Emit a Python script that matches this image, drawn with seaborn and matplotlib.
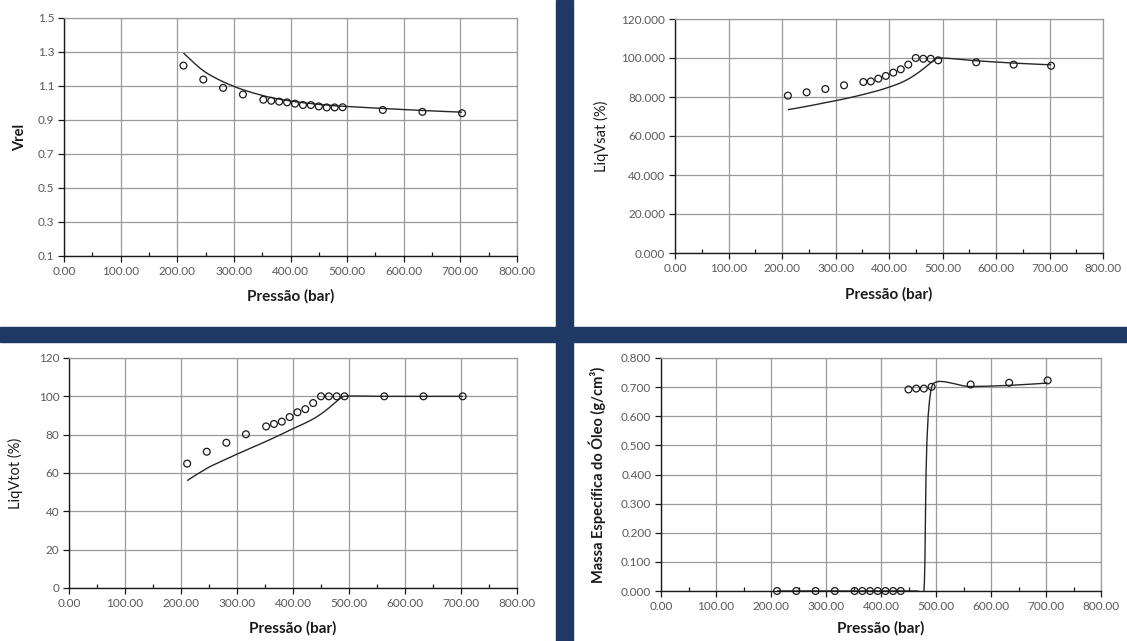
import numpy as np
import matplotlib
matplotlib.use("Agg")
import matplotlib.pyplot as plt
from matplotlib.path import Path
from matplotlib.patches import PathPatch, Rectangle
from matplotlib.ticker import FormatStrFormatter, MultipleLocator
import seaborn as sns

# Pressure stages (bar)
pressao = [211, 246, 281, 316, 352, 366, 380, 394, 408, 422, 436, 450, 464, 478, 492, 563, 633, 703]

# Relative volume: laboratory points and simulated curve
vrel_exp = [1.220, 1.138, 1.089, 1.050, 1.019, 1.013, 1.008, 1.004, 0.996, 0.988, 0.988, 0.980,
            0.974, 0.974, 0.975, 0.959, 0.948, 0.940]
vrel_sim = [1.294, 1.190, 1.125, 1.078, 1.043, 1.032, 1.023, 1.015, 1.008, 1.002, 0.997, 0.992,
            0.988, 0.984, 0.981, 0.968, 0.956, 0.946]

# Liquid volume relative to saturation volume (%)
liqvsat_exp = [80.7, 82.4, 84.1, 86.0, 87.7, 88.0, 89.4, 90.8, 92.5, 94.2, 96.6, 100.0,
               99.6, 99.6, 98.8, 97.8, 96.6, 96.0]
liqvsat_sim = [73.5, 75.2, 77.1, 79.0, 81.3, 82.3, 83.3, 84.5, 85.8, 87.3, 89.2, 91.6,
               94.4, 97.5, 100.0, 98.6, 97.4, 96.5]

# Liquid volume relative to total volume (%)
liqvtot_exp = [64.9, 71.1, 75.8, 80.2, 84.3, 85.6, 86.8, 89.2, 91.7, 93.3, 96.5, 100.0,
               100.0, 100.0, 100.0, 100.0, 100.0, 100.0]
liqvtot_sim = [56.0, 62.4, 67.3, 71.9, 76.5, 78.4, 80.3, 82.3, 84.2, 86.1, 88.2, 90.8,
               93.9, 97.4, 100.0, 100.0, 100.0, 100.0]

# Oil density (g/cm3)
rho_exp = [0.0, 0.0, 0.0, 0.0, 0.0, 0.0, 0.0, 0.0, 0.0, 0.0, 0.0, 0.692,
           0.695, 0.695, 0.701, 0.709, 0.715, 0.723]
rho_sim = [0.0, 0.0, 0.0, 0.0, 0.0, 0.0, 0.0, 0.0, 0.0, 0.0, 0.0, 0.0,
           0.0, 0.0, 0.700, 0.702, 0.706, 0.714]

x_ticks = [0, 100, 200, 300, 400, 500, 600, 700, 800]
vrel_ticks = [0.1, 0.3, 0.5, 0.7, 0.9, 1.1, 1.3, 1.5]
pct_ticks = [0, 20, 40, 60, 80, 100, 120]
rho_ticks = [0.0, 0.1, 0.2, 0.3, 0.4, 0.5, 0.6, 0.7, 0.8]

sns.set_theme(style="white")
plt.rcParams["font.family"] = ["Lato", "DejaVu Sans"]

W, H = 1127, 641
fig = plt.figure(figsize=(W / 100, H / 100), dpi=100)
fig.patch.set_facecolor("white")

NAVY = "#203864"
# panel separators
fig.patches.append(Rectangle((556 / W, 0), 17 / W, 1, transform=fig.transFigure,
                             color=NAVY, zorder=0))
fig.patches.append(Rectangle((0, 1 - 342 / H), 1, 15 / H, transform=fig.transFigure,
                             color=NAVY, zorder=0))


def add_axes_px(left, right, top, bottom):
    return fig.add_axes([left / W, 1 - bottom / H, (right - left) / W, (bottom - top) / H])


def smooth_line(ax, x, y, color="#262626", lw=1.0):
    """Smoothed polyline through (x, y) built from cubic Bezier segments."""
    pts = ax.transData.transform(np.column_stack([x, y]).astype(float))
    n = len(pts)

    def tangent(i):
        return pts[min(i + 1, n - 1)] - pts[max(i - 1, 0)]

    def handle(i, seg):
        t = tangent(i)
        L = np.hypot(*t)
        if L == 0:
            return t
        return t / L * min(L / 6, seg / 3)

    verts = [pts[0]]
    codes = [Path.MOVETO]
    for i in range(n - 1):
        p0, p1 = pts[i], pts[i + 1]
        seg = np.hypot(*(p1 - p0))
        verts += [p0 + handle(i, seg), p1 - handle(i + 1, seg), p1]
        codes += [Path.CURVE4] * 3
    verts = ax.transData.inverted().transform(np.array(verts))
    ax.add_patch(PathPatch(Path(verts, codes), fill=False, edgecolor=color, lw=lw, zorder=2))


def style_axes(ax, ylim, yticks, yfmt, ylabel, ylabel_x_px, ylabel_bold, xlabel_y_px, box):
    left, right, top, bottom = box
    ax.set_xlim(0, 800)
    ax.set_ylim(*ylim)
    ax.set_xticks(x_ticks)
    ax.set_yticks(yticks)
    ax.xaxis.set_major_formatter(FormatStrFormatter("%.2f"))
    ax.xaxis.set_minor_locator(MultipleLocator(50))
    ax.yaxis.set_major_formatter(FormatStrFormatter(yfmt))
    ax.grid(True, which="major", color="#9a9a9a", lw=0.9)
    ax.set_axisbelow(True)
    for s in ("top", "right"):
        ax.spines[s].set_color("#9a9a9a")
        ax.spines[s].set_linewidth(0.9)
    for s in ("left", "bottom"):
        ax.spines[s].set_color("#1a1a1a")
        ax.spines[s].set_linewidth(1.0)
    ax.tick_params(axis="both", which="major", direction="out", length=4, width=0.9,
                   color="#1a1a1a", labelsize=8.5, labelcolor="#595959", pad=3,
                   bottom=True, left=True)
    ax.tick_params(axis="x", which="minor", direction="in", length=3, width=0.9,
                   color="#1a1a1a", bottom=True)
    ax.set_xlabel("Pressão (bar)", fontsize=11, fontweight="bold", color="#1a1a1a")
    ax.set_ylabel(ylabel, fontsize=10.5, fontweight="bold" if ylabel_bold else "normal",
                  color="#1a1a1a")
    width = right - left
    height = bottom - top
    ax.xaxis.label.set_va("center")
    ax.xaxis.set_label_coords(0.5, -(xlabel_y_px - bottom) / height)
    ax.yaxis.label.set_va("center")
    ax.yaxis.set_label_coords((ylabel_x_px - left) / width, 0.5)


panels = [
    dict(box=(64, 517, 18, 256), exp=vrel_exp, sim=vrel_sim, ylim=(0.1, 1.5), yticks=vrel_ticks,
         yfmt="%.1f", ylabel="Vrel", lx=20, bold=True, xly=296),
    dict(box=(675, 1103, 19, 253), exp=liqvsat_exp, sim=liqvsat_sim, ylim=(0, 120),
         yticks=pct_ticks, yfmt="%.3f", ylabel="LiqVsat (%)", lx=601, bold=False, xly=294),
    dict(box=(69, 517, 358, 588), exp=liqvtot_exp, sim=liqvtot_sim, ylim=(0, 120),
         yticks=pct_ticks, yfmt="%d", ylabel="LiqVtot (%)", lx=15, bold=False, xly=628),
    dict(box=(661, 1101, 358, 591), exp=rho_exp, sim=rho_sim, ylim=(0, 0.8), yticks=rho_ticks,
         yfmt="%.3f", ylabel="Massa Específica do Óleo (g/cm³)", lx=597, bold=True, xly=628),
]

for p in panels:
    ax = add_axes_px(*p["box"])
    style_axes(ax, p["ylim"], p["yticks"], p["yfmt"], p["ylabel"], p["lx"], p["bold"],
               p["xly"], p["box"])
    smooth_line(ax, pressao, p["sim"])
    sns.scatterplot(x=pressao, y=p["exp"], ax=ax, s=24, marker="o", linewidth=0.9,
                    edgecolor="#1a1a1a", zorder=3, clip_on=False)
    ax.collections[-1].set_facecolor("none")

fig.savefig("out.png", dpi=100, facecolor="white")
